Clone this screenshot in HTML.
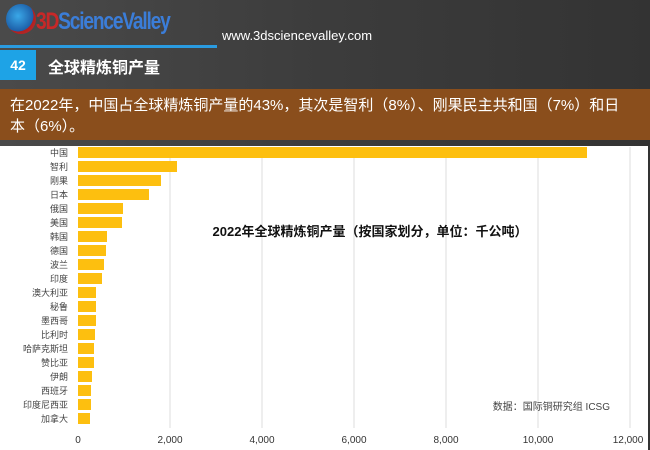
<!DOCTYPE html>
<html><head><meta charset="utf-8"><style>
body{margin:0;width:650px;height:450px;overflow:hidden;background:#3a3a3a;font-family:"Liberation Sans","Noto Sans CJK SC",sans-serif;}
.bg{position:absolute;left:0;top:0;width:650px;height:450px;background:linear-gradient(90deg,#4a4a4a,#3c3c3c 50%,#333 100%);}
</style></head><body>
<div class="bg"></div>
<div style="position:absolute;left:6px;top:4px;width:30px;height:30px;border-radius:50%;background:radial-gradient(circle at 40% 40%,#3aa8e8,#1d5fa8 60%,#b02020 61%,#c03030);"></div>
<div style="position:absolute;left:36px;top:8px;color:#3b7dd8;font:bold 24px 'Liberation Sans Narrow','Liberation Sans',sans-serif;letter-spacing:-1.5px;transform:scaleX(0.8);transform-origin:left;"><span style="color:#c82828">3D</span>ScienceValley</div>
<div style="position:absolute;left:222px;top:28px;color:#fff;font-size:13px;">www.3dsciencevalley.com</div>
<div style="position:absolute;left:0;top:45px;width:217px;height:3px;background:#2a9be0;"></div>
<div style="position:absolute;left:0;top:50px;width:36px;height:30px;background:#1ea3e6;color:#fff;font:bold 14px 'Liberation Sans',sans-serif;line-height:30px;text-align:center;">42</div>
<div style="position:absolute;left:48px;top:54px;color:#fff;font-weight:bold;font-size:16px;">全球精炼铜产量</div>
<div style="position:absolute;left:0;top:89px;width:650px;height:51px;background:#8a4e1c;"></div>
<div style="position:absolute;left:10px;top:95px;width:615px;color:#fff;font-size:15px;line-height:21px;">在2022年，中国占全球精炼铜产量的43%，其次是智利（8%）、刚果民主共和国（7%）和日本（6%）。</div>
<svg style="position:absolute;left:0;top:0" width="650" height="450">
<rect x="0" y="146" width="648" height="304" fill="#fff"/>
<g stroke="#ddd" stroke-width="1">
<line x1="170" y1="147" x2="170" y2="428"/><line x1="262" y1="147" x2="262" y2="428"/><line x1="354" y1="147" x2="354" y2="428"/><line x1="446" y1="147" x2="446" y2="428"/><line x1="538" y1="147" x2="538" y2="428"/><line x1="630" y1="147" x2="630" y2="428"/>
</g>
<g fill="#fdbf0f" id="b"></g>
<g font-size="9" fill="#444" text-anchor="end" id="l"></g>
<text x="370" y="236" font-size="13" font-weight="bold" text-anchor="middle" fill="#111">2022年全球精炼铜产量（按国家划分，单位：千公吨）</text>
<text x="610" y="410" font-size="10" text-anchor="end" fill="#444">数据：国际铜研究组 ICSG</text>
<g font-size="10" fill="#333" text-anchor="middle">
<text x="78" y="443">0</text><text x="170" y="443">2,000</text><text x="262" y="443">4,000</text><text x="354" y="443">6,000</text><text x="446" y="443">8,000</text><text x="538" y="443">10,000</text><text x="628" y="443">12,000</text>
</g>
</svg>
<script>
var n=["中国","智利","刚果","日本","俄国","美国","韩国","德国","波兰","印度","澳大利亚","秘鲁","墨西哥","比利时","哈萨克斯坦","赞比亚","伊朗","西班牙","印度尼西亚","加拿大"];
var e=[587,177,161,149,123,122,107,106,104,102,96,96,96,95,94,94,92,91,91,90];
var b=document.getElementById('b'),l=document.getElementById('l'),s='',t='';
for(var i=0;i<20;i++){var y=147+14*i;s+='<rect x="78" y="'+y+'" width="'+(e[i]-78)+'" height="11"/>';t+='<text x="68" y="'+(y+9)+'">'+n[i]+'</text>';}
b.innerHTML=s;l.innerHTML=t;
</script>
</body></html>
